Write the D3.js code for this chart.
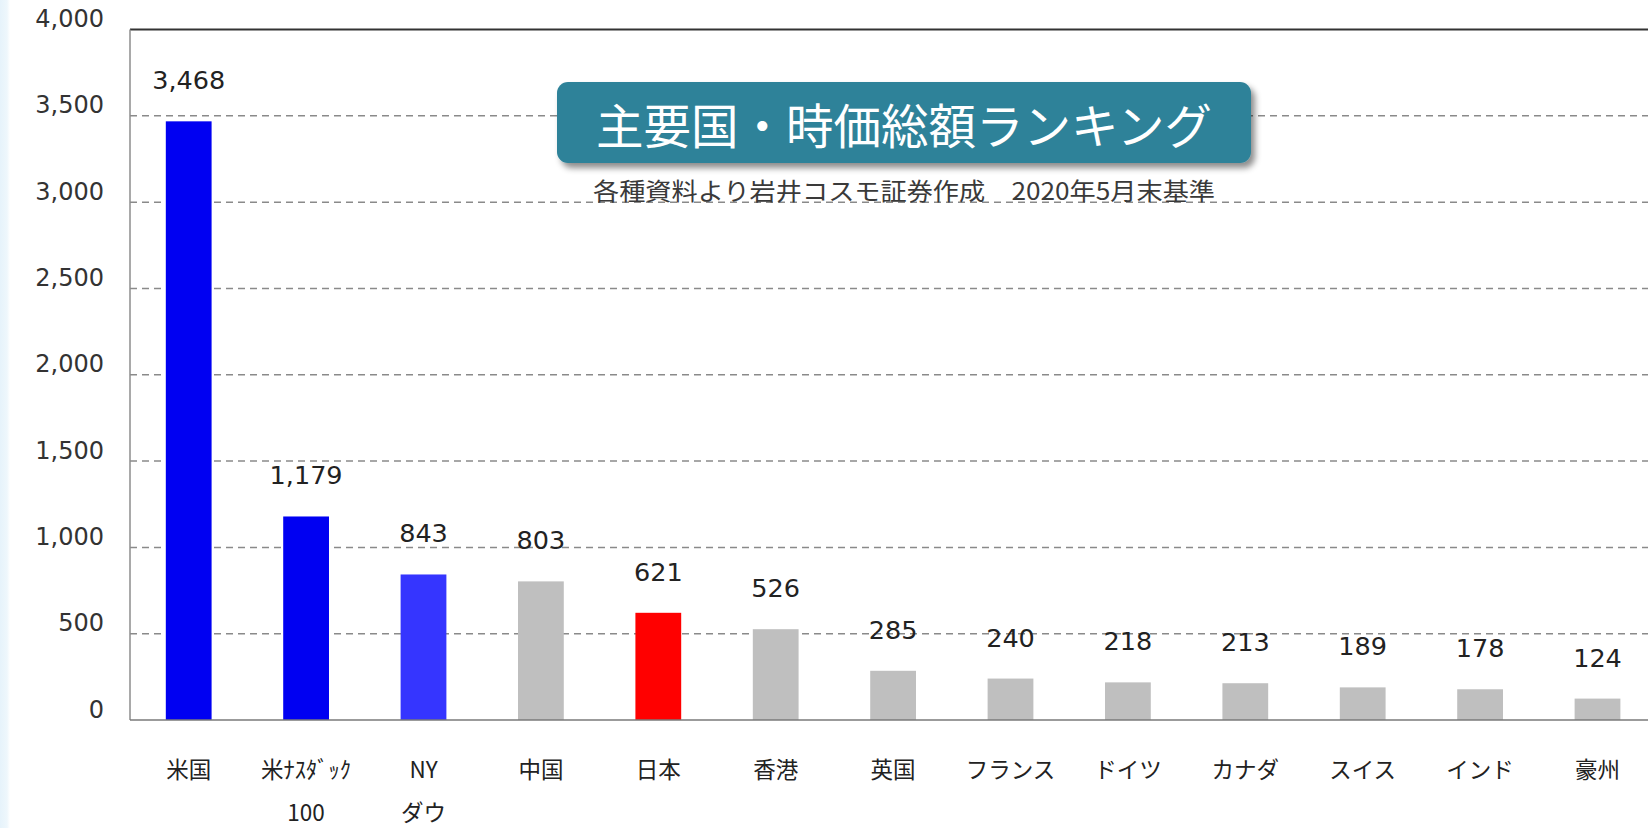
<!DOCTYPE html>
<html><head><meta charset="utf-8">
<script src="https://cdn.jsdelivr.net/npm/d3@7/dist/d3.min.js"></script>
<style>
html,body{margin:0;padding:0;background:#fff;overflow:hidden;}
svg{display:block;}
</style></head>
<body>
<svg id="chart" width="1648" height="828"></svg>
<script>
// ---- data ----
const categories = ["米国","米ﾅｽﾀﾞｯｸ","NY","中国","日本","香港","英国","フランス","ドイツ","カナダ","スイス","インド","豪州"];
const subLabels  = ["","100","ダウ","","","","","","","","","",""];
const values     = [3468,1179,843,803,621,526,285,240,218,213,189,178,124];
const groups     = ["us","us","ny","other","japan","other","other","other","other","other","other","other","other"];
const yTicks     = [0,500,1000,1500,2000,2500,3000,3500,4000];
const titleText  = "主要国・時価総額ランキング";
const subtitleText = "各種資料より岩井コスモ証券作成　2020年5月末基準";

// ---- styles ----
const groupColor = {us:"#0000f2", ny:"#3535ff", japan:"#ff0000", other:"#bfbfbf"};
const W = 1648, H = 828;
const plotLeft = 130, plotTop = 29.5, plotBottom = 720, step = 117.4;

const svg = d3.select("#chart");
const defs = svg.append("defs");
const grad = defs.append("linearGradient").attr("id","strip").attr("x1","0").attr("x2","1");
grad.append("stop").attr("offset","0").attr("stop-color","#e6f3fb");
grad.append("stop").attr("offset","0.7").attr("stop-color","#eef7fc");
grad.append("stop").attr("offset","1").attr("stop-color","#ffffff");
const shadow = defs.append("filter").attr("id","shadow").attr("x","-10%").attr("y","-20%").attr("width","130%").attr("height","160%");
shadow.append("feDropShadow").attr("dx",4).attr("dy",5).attr("stdDeviation",3).attr("flood-color","#000").attr("flood-opacity",0.45);

svg.append("rect").attr("x",0).attr("y",0).attr("width",W).attr("height",H).attr("fill","#fff");
svg.append("rect").attr("x",0).attr("y",0).attr("width",10).attr("height",H).attr("fill","url(#strip)");

const y = d3.scaleLinear().domain([0,4000]).range([plotBottom, plotTop]);
const x = d3.scaleBand().domain(categories).range([plotLeft, plotLeft + step*categories.length])
  .paddingInner(0.61).paddingOuter(0.305);

// gridlines
svg.append("g").selectAll("line").data(yTicks.filter(d => d > 0)).join("line")
  .attr("x1", plotLeft).attr("x2", W)
  .attr("y1", d => y(d)).attr("y2", d => y(d))
  .attr("stroke", d => d === 4000 ? "#333" : "#8a8a8a")
  .attr("stroke-width", d => d === 4000 ? 2.2 : 1.5)
  .attr("stroke-dasharray", d => d === 4000 ? null : "7,5");

// y axis labels
const yAxisG = svg.append("g").attr("transform", `translate(${plotLeft},0)`)
  .call(d3.axisLeft(y).tickValues(yTicks).tickFormat(d3.format(",")).tickSize(0).tickPadding(26));
yAxisG.select(".domain").remove();
yAxisG.selectAll("text").attr("font-family","DejaVu Sans, Verdana, sans-serif")
  .attr("font-size",24).attr("fill","#333").attr("dy","-0.12em");

// axis lines
svg.append("line").attr("x1",plotLeft).attr("x2",plotLeft).attr("y1",plotTop).attr("y2",plotBottom)
  .attr("stroke","#8c8c8c").attr("stroke-width",1.5);

// bars
svg.append("g").selectAll("rect").data(values).join("rect")
  .attr("x", (d,i) => x(categories[i]))
  .attr("width", x.bandwidth())
  .attr("y", d => y(d))
  .attr("height", d => y(0) - y(d))
  .attr("fill", (d,i) => groupColor[groups[i]]);

svg.append("line").attr("x1",plotLeft).attr("x2",W).attr("y1",plotBottom).attr("y2",plotBottom)
  .attr("stroke","#7a7a7a").attr("stroke-width",1.5);

// value labels
svg.append("g").selectAll("text").data(values).join("text")
  .attr("x", (d,i) => x(categories[i]) + x.bandwidth()/2)
  .attr("y", d => y(d) - 41)
  .attr("text-anchor","middle").attr("dominant-baseline","central")
  .attr("font-family","DejaVu Sans, Verdana, sans-serif").attr("font-size",25.5).attr("fill","#222")
  .text(d => d3.format(",")(d));

// x axis labels
const xAxisG = svg.append("g").attr("transform", `translate(0,${plotBottom})`)
  .call(d3.axisBottom(x).tickSize(0).tickPadding(0));
xAxisG.select(".domain").remove();
xAxisG.selectAll("text").each(function(d,i){
  const t = d3.select(this).text(null).attr("y",0).attr("dy",null)
    .attr("font-family","'Noto Sans CJK JP', sans-serif").attr("font-size",22.5).attr("fill","#222")
    .attr("dominant-baseline","central");
  t.append("tspan").attr("x",0).attr("y",48).text(d);
  if (subLabels[i]) t.append("tspan").attr("x",0).attr("y",91).text(subLabels[i]);
});

// title box
const tb = {x:557, y:82, w:694, h:81};
svg.append("rect").attr("x",tb.x).attr("y",tb.y).attr("width",tb.w).attr("height",tb.h)
  .attr("rx",11).attr("fill","#2e8299").attr("filter","url(#shadow)");
svg.append("text").attr("x",tb.x + tb.w/2).attr("y",tb.y + tb.h/2 + 1)
  .attr("text-anchor","middle").attr("dominant-baseline","central")
  .attr("font-family","'Noto Sans CJK JP', sans-serif").attr("font-size",47.5).attr("fill","#fff")
  .text(titleText);
svg.append("text").attr("x",904).attr("y",189)
  .attr("text-anchor","middle").attr("dominant-baseline","central")
  .attr("font-family","'Noto Sans CJK JP', sans-serif").attr("font-size",24).attr("fill","#3a3a3a")
  .attr("textLength",622).attr("lengthAdjust","spacingAndGlyphs")
  .text(subtitleText);
</script>
</body></html>
